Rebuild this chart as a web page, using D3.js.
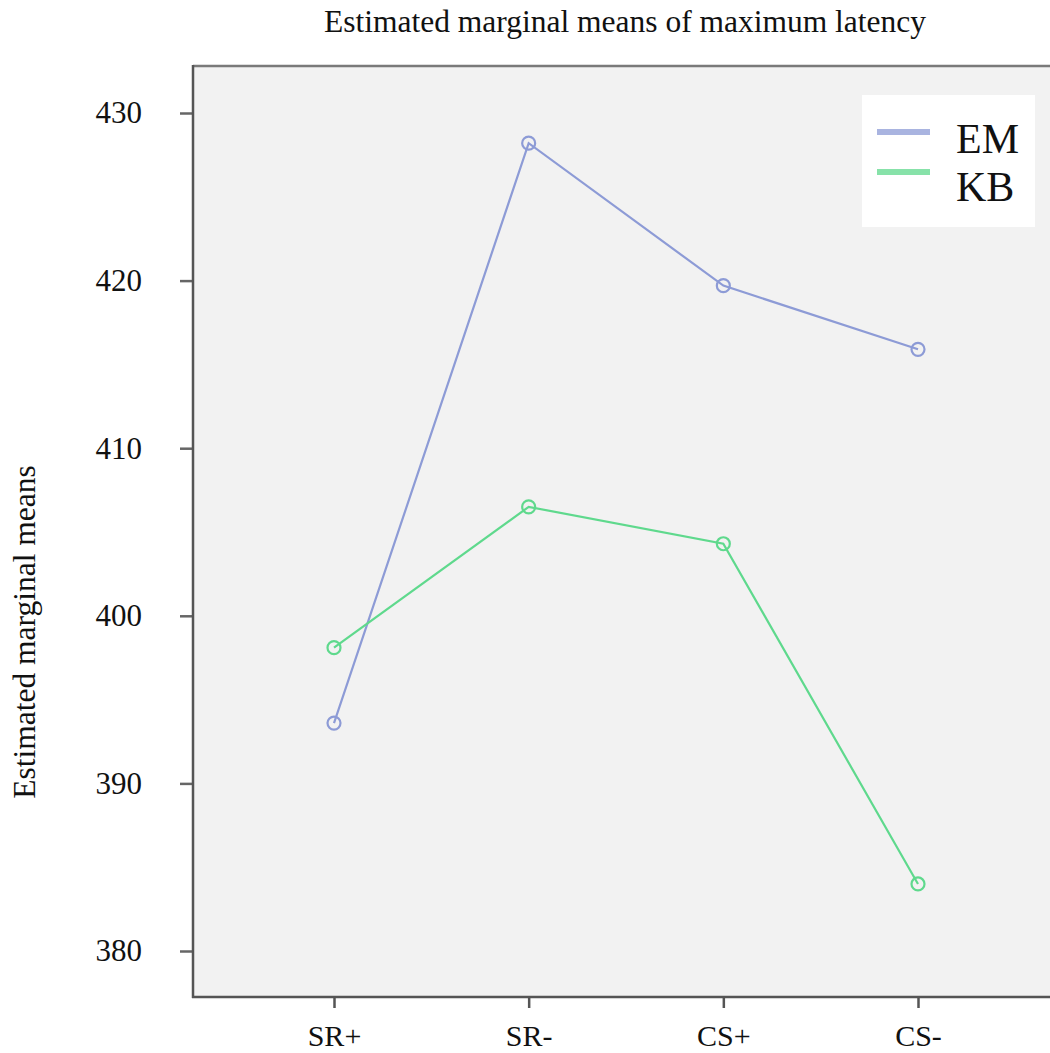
<!DOCTYPE html>
<html>
<head>
<meta charset="utf-8">
<script src="https://cdn.jsdelivr.net/npm/d3@7"></script>
<style>
  body { margin: 0; background: #fff; }
  text { font-family: "Liberation Serif", "Times New Roman", serif; fill: #111; }
</style>
</head>
<body>
<div id="chart"></div>
<script>
// data
var categories = ["SR+", "SR-", "CS+", "CS-"];
var emValues = [393.6, 428.2, 419.7, 415.9];
var kbValues = [398.1, 406.5, 404.3, 384.0];
var yTicks = [380, 390, 400, 410, 420, 430];
var seriesNames = ["EM", "KB"];
var seriesColors = ["#8d9bd6", "#5fd98d"];

var svgWidth = 1050;
var svgHeight = 1053;

var plot = { left: 193, top: 66, right: 1060, bottom: 997 };

var svg = d3.select("#chart")
  .append("svg")
  .attr("width", svgWidth)
  .attr("height", svgHeight);

var x = d3.scalePoint()
  .domain(categories)
  .range([334, 918]);

var y = d3.scaleLinear()
  .domain([380, 430])
  .range([951, 113]);

// plot background + frame
svg.append("rect")
  .attr("x", plot.left)
  .attr("y", plot.top)
  .attr("width", plot.right - plot.left)
  .attr("height", plot.bottom - plot.top)
  .attr("fill", "#f2f2f2");

svg.append("line")
  .attr("x1", plot.left).attr("x2", plot.right)
  .attr("y1", plot.top).attr("y2", plot.top)
  .attr("stroke", "#7a7a7a").attr("stroke-width", 2.5);

// title
svg.append("text")
  .attr("x", 625)
  .attr("y", 32)
  .attr("text-anchor", "middle")
  .style("font-size", "31.5px")
  .text("Estimated marginal means of maximum latency");

// y axis
var leftAxis = d3.axisLeft(y)
  .tickValues(yTicks)
  .tickSize(13)
  .tickPadding(38)
  .tickFormat(d3.format("d"));

var yAxisG = svg.append("g")
  .attr("transform", `translate(${plot.left}, 0)`)
  .call(leftAxis);

yAxisG.select(".domain").remove();
yAxisG.selectAll(".tick line").attr("stroke", "#666").attr("stroke-width", 2.5);
yAxisG.selectAll(".tick text")
  .style("font-size", "31px")
  .style("font-family", "Liberation Serif, serif")
  .attr("fill", "#111");

svg.append("line")
  .attr("x1", plot.left).attr("x2", plot.left)
  .attr("y1", plot.top - 1).attr("y2", plot.bottom + 1)
  .attr("stroke", "#555").attr("stroke-width", 2.5);

// x axis
var bottomAxis = d3.axisBottom(x)
  .tickSize(11)
  .tickPadding(17);

var xAxisG = svg.append("g")
  .attr("transform", `translate(0, ${plot.bottom})`)
  .call(bottomAxis);

xAxisG.select(".domain").remove();
xAxisG.selectAll(".tick line").attr("stroke", "#555").attr("stroke-width", 2.5);
xAxisG.selectAll(".tick text")
  .style("font-size", "30px")
  .style("font-family", "Liberation Serif, serif")
  .attr("fill", "#111");

svg.append("line")
  .attr("x1", plot.left - 1).attr("x2", plot.right)
  .attr("y1", plot.bottom).attr("y2", plot.bottom)
  .attr("stroke", "#555").attr("stroke-width", 2.5);

// y axis label
svg.append("text")
  .attr("transform", `translate(35, 632) rotate(-90)`)
  .attr("text-anchor", "middle")
  .style("font-size", "31.5px")
  .text("Estimated marginal means");

// lines + markers
var series = [emValues, kbValues];

var line = d3.line()
  .x((d, i) => x(categories[i]))
  .y(d => y(d));

series.forEach(function (vals, s) {
  svg.append("path")
    .datum(vals)
    .attr("d", line)
    .attr("fill", "none")
    .attr("stroke", seriesColors[s])
    .attr("stroke-width", 2.2);

  svg.selectAll(null)
    .data(vals)
    .enter()
    .append("circle")
    .attr("cx", (d, i) => x(categories[i]))
    .attr("cy", d => y(d))
    .attr("r", 6.5)
    .attr("fill", "none")
    .attr("stroke", seriesColors[s])
    .attr("stroke-width", 2.2);
});

// legend
var legend = svg.append("g");

legend.append("rect")
  .attr("x", 862)
  .attr("y", 95)
  .attr("width", 173)
  .attr("height", 132)
  .attr("fill", "#fff");

seriesNames.forEach(function (name, i) {
  legend.append("line")
    .attr("x1", 877).attr("x2", 930)
    .attr("y1", 132 + i * 40).attr("y2", 132 + i * 40)
    .attr("stroke", seriesColors[i])
    .attr("stroke-width", 6)
    .attr("opacity", 0.75);

  legend.append("text")
    .attr("x", 956)
    .attr("y", 153 + i * 48)
    .style("font-size", "42px")
    .text(name);
});
</script>
</body>
</html>
